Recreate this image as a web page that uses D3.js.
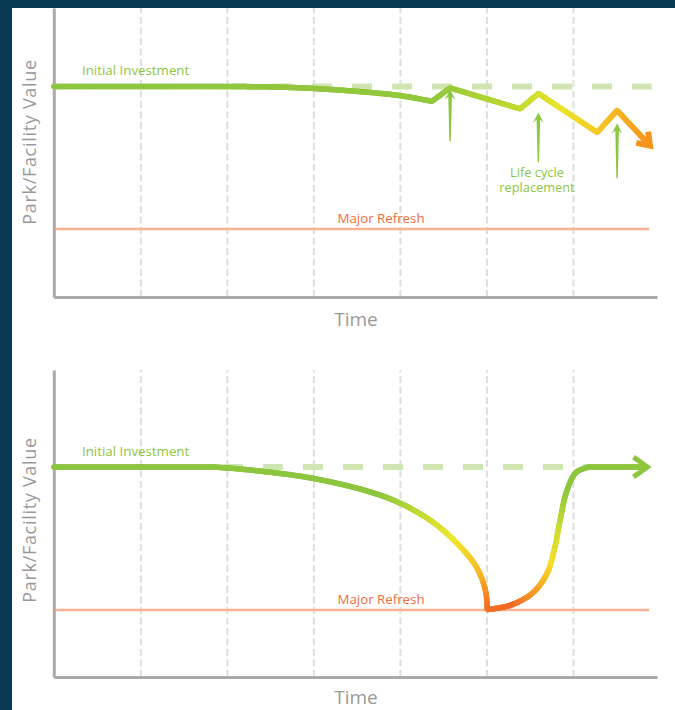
<!DOCTYPE html>
<meta charset="utf-8">
<style>
body { margin: 0; background: #fff; }
svg { display: block; font-family: 'Open Sans', sans-serif; }
.grid line { stroke: #dedede; stroke-width: 2; stroke-dasharray: 7,3.5; }
.grid .domain { display: none; }
.axis .domain { stroke: #aaa; stroke-width: 3; }
.axis .tick { display: none; }
.label { fill: #8dc63f; font-size: 13.3px; }
.refresh-label { fill: #f26d3d; font-size: 13.3px; text-anchor: middle; }
.axis-title { fill: #999; font-size: 19px; text-anchor: middle; }
</style>
<body>
<svg width="675" height="710"></svg>
<script src="https://cdnjs.cloudflare.com/ajax/libs/d3/7.8.5/d3.min.js"></script>
<script>
// value of the park over time: 100 = initial investment, 0 = major refresh level
var topDecline = [[0,100],[2.04,100],[2.6,99.6],[3.01,98.6],[3.5,96.6],[4.0,93.6],[4.37,89.6]];
var topCycles = [[4.37,89.6],[4.58,99.0],[5.39,84.3],[5.6,95.1],[6.28,67.8],[6.51,83.2],[6.89,58.5]];
var replacementTimes = [4.58, 5.6, 6.51];
var replacementTop = [97.9, 81.8, 74.1];
var replacementBottom = [61.5, 46.9, 35.7];

var bottomDecline = [[0,100],[1.85,100],[2.27,97.9],[2.99,92.1],[3.62,83.2],[4.0,74.8],[4.38,61.5],[4.69,44.8],[4.89,29.4],[4.99,13.3],[5.01,0.3]];
var bottomRecovery = [[5.01,0.3],[5.27,3.2],[5.53,11.7],[5.7,25.5],[5.79,43.7],[5.85,62.5],[5.93,83.5],[6.04,96.4],[6.19,100],[6.86,100]];

var gridTimes = [1, 2, 3, 4, 5, 6];
var dashedFrom = [2.06, 1.955];
var dashedTo = [6.91, 6.2];

var green = "#8dc63f";
// colour along the length of each line (0 = start, 1 = end)
var topStops = [[0, green], [0.6, "#92c83d"], [0.74, "#c5da30"], [0.82, "#ebe42b"], [0.89, "#f5c726"], [1, "#f7941d"]];
var bottomStops = [[0, green], [0.44, green], [0.5, "#c0d932"], [0.56, "#f0e62b"], [0.62, "#f8b626"], [0.66, "#f47224"],
                   [0.7, "#f26a24"], [0.74, "#f7a123"], [0.78, "#f5df2a"], [0.83, "#c9dc30"], [0.88, green], [1, green]];

var svg = d3.select("svg");

svg.append("rect").attr("width", 675).attr("height", 710).attr("fill", "#083a53");
svg.append("rect").attr("x", 12).attr("y", 8).attr("width", 663).attr("height", 702).attr("fill", "#fff");

var x = d3.scaleLinear().domain([0, 7]).range([53.8, 659.5]);

var panels = [
  {top: 8, bottom: 297, initialY: 86.5, refreshY: 229, labelY: 75, refreshLabelY: 223, titleY: 326, yTitle: 142},
  {top: 370, bottom: 677, initialY: 467, refreshY: 610, labelY: 456, refreshLabelY: 604, titleY: 704, yTitle: 520}
];

panels.forEach(function(p, i) {
  var y = d3.scaleLinear().domain([0, 100]).range([p.refreshY, p.initialY]);
  p.y = y;
  var g = svg.append("g");

  // dashed vertical grid
  g.append("g")
      .attr("class", "grid")
      .attr("transform", "translate(0," + p.bottom + ")")
      .call(d3.axisBottom(x).tickValues(gridTimes).tickSize(-(p.bottom - p.top)).tickFormat(""));

  // major refresh line
  g.append("line")
      .attr("x1", x(0)).attr("x2", x(6.88))
      .attr("y1", y(0)).attr("y2", y(0))
      .attr("stroke", "#f9b393").attr("stroke-width", 2.5);

  g.append("text").attr("class", "refresh-label")
      .attr("x", 381).attr("y", p.refreshLabelY).text("Major Refresh");

  // dashed initial level
  g.append("line")
      .attr("x1", x(dashedFrom[i])).attr("x2", x(dashedTo[i]))
      .attr("y1", y(100)).attr("y2", y(100))
      .attr("stroke", "#cfe6b3").attr("stroke-width", 6)
      .attr("stroke-dasharray", "20,20");

  g.append("text").attr("class", "label")
      .attr("x", 82).attr("y", p.labelY).text("Initial Investment");

  // axes
  var yAxisScale = y.copy().domain([y.invert(p.bottom), y.invert(p.top)]).range([p.bottom, p.top]);
  g.append("g").attr("class", "axis")
      .attr("transform", "translate(" + x(0) + ",0)")
      .call(d3.axisLeft(yAxisScale).tickValues([]).tickSizeOuter(0));
  var xAxisScale = x.copy().domain([0, x.invert(657)]).range([x(0), 657]);
  g.append("g").attr("class", "axis")
      .attr("transform", "translate(0," + p.bottom + ")")
      .call(d3.axisBottom(xAxisScale).tickValues([]).tickSizeOuter(0));

  g.append("text").attr("class", "axis-title")
      .attr("x", 356).attr("y", p.titleY).text("Time");

  g.append("text").attr("class", "axis-title")
      .attr("transform", "translate(36," + p.yTitle + ") rotate(-90)")
      .style("font-size", "18px")
      .style("letter-spacing", "0.7px")
      .text("Park/Facility Value");
});

// draws a line whose colour changes along its length
function gradientLine(d, stops, trimEnd) {
  var tmp = svg.append("path").attr("d", d).attr("fill", "none");
  var node = tmp.node();
  var total = node.getTotalLength();
  var color = d3.scaleLinear()
      .domain(stops.map(function(s) { return s[0]; }))
      .range(stops.map(function(s) { return s[1]; }))
      .interpolate(d3.interpolateRgb);
  var g = svg.append("g").attr("stroke-linecap", "round").attr("stroke-width", 5.5);
  var step = 1.5, prev = node.getPointAtLength(0);
  for (var l = step; l <= total - trimEnd + 0.01; l += step) {
    var pt = node.getPointAtLength(Math.min(l, total - trimEnd));
    g.append("line")
        .attr("x1", prev.x).attr("y1", prev.y)
        .attr("x2", pt.x).attr("y2", pt.y)
        .attr("stroke", color(l / total));
    prev = pt;
  }
  tmp.remove();
}

function chevron(tip, angle, len, colour, width) {
  var a1 = angle + Math.PI - 0.62, a2 = angle + Math.PI + 0.62;
  svg.append("path")
      .attr("d", d3.line()([
        [tip[0] + len * Math.cos(a1), tip[1] + len * Math.sin(a1)],
        tip,
        [tip[0] + len * Math.cos(a2), tip[1] + len * Math.sin(a2)]
      ]))
      .attr("fill", "none")
      .attr("stroke", colour)
      .attr("stroke-width", width)
      .attr("stroke-linejoin", "miter")
      .attr("stroke-linecap", "butt");
}

var smooth = d3.line().x(function(d) { return x(d[0]); }).curve(d3.curveCatmullRom.alpha(0.5));
var straight = d3.line().x(function(d) { return x(d[0]); });

// top chart: flat start drawn straight, the slow decline smoothed, the saw-tooth straight
var yT = panels[0].y, yB = panels[1].y;
smooth.y(function(d) { return yT(d[1]); });
straight.y(function(d) { return yT(d[1]); });
gradientLine(straight(topDecline.slice(0, 2)) + smooth(topDecline.slice(1)) + straight(topCycles), topStops, 3);

var endA = topCycles[topCycles.length - 2], endB = topCycles[topCycles.length - 1];
chevron([x(endB[0]), yT(endB[1])],
        Math.atan2(yT(endB[1]) - yT(endA[1]), x(endB[0]) - x(endA[0])), 14, "#f7941d", 6);

// life cycle replacement arrows
replacementTimes.forEach(function(t, i) {
  var cx = x(t), top = yT(replacementTop[i]), bot = yT(replacementBottom[i]);
  var pts = [[0, 0], [5.5, 10.5], [1.8, 7], [0.7, bot - top], [-0.7, bot - top], [-1.8, 7], [-5.5, 10.5]];
  svg.append("path")
      .attr("d", d3.line()(pts.map(function(p) { return [cx + p[0], top + p[1]]; })) + "Z")
      .attr("fill", green);
});

svg.append("text").attr("class", "label").attr("text-anchor", "middle")
    .style("font-size", "12.8px")
    .attr("x", 537).attr("y", 176.5).text("Life cycle");
svg.append("text").attr("class", "label").attr("text-anchor", "middle")
    .style("font-size", "12.8px")
    .attr("x", 537).attr("y", 192).text("replacement");

// bottom chart
smooth.y(function(d) { return yB(d[1]); });
straight.y(function(d) { return yB(d[1]); });
var n = bottomRecovery.length;
gradientLine(straight(bottomDecline.slice(0, 2)) + smooth(bottomDecline.slice(1)) +
             smooth(bottomRecovery.slice(0, n - 1)) + straight(bottomRecovery.slice(n - 2)), bottomStops, 3);
var last = bottomRecovery[n - 1];
chevron([x(last[0]), yB(last[1])], 0, 17, green, 5);
</script>
</body>
